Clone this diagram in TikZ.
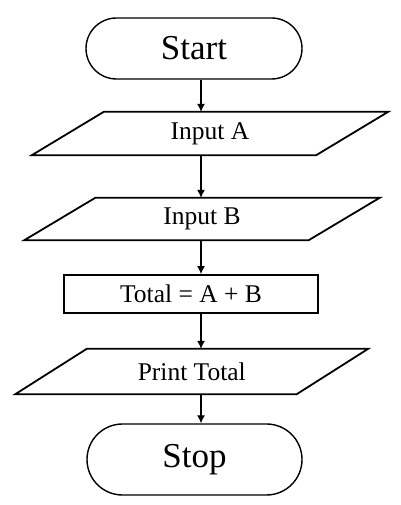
\documentclass[tikz,border=0pt]{standalone}
\usepackage{fontspec}
\setmainfont{Liberation Serif}
\usetikzlibrary{shapes.misc,arrows.meta}
\begin{document}
\begin{tikzpicture}[x=1pt,y=1pt,
  term/.style={rounded rectangle, draw, line width=1.4pt, inner sep=0pt,
    font=\fontsize{35}{40}\selectfont},
  iobox/.style={draw=none, inner sep=0pt, minimum width=284pt,
    font=\fontsize{25.5}{30}\selectfont},
  procbox/.style={draw, line width=1.8pt, inner sep=0pt,
    font=\fontsize{25.5}{30}\selectfont},
  ioline/.style={line width=1.8pt, line join=miter},
  flow/.style={line width=1.1pt, -{Latex[length=8pt,width=8pt]}}]
\useasboundingbox (0,0) rectangle (400,505);
\fill[white] (0,0) rectangle (400,505);
\node[term, minimum width=216pt, minimum height=61pt] (start) at (194,456.5) {Start};
\node[iobox, minimum height=43pt] (inA) at (210,371.5) {Input A};
\node[iobox, minimum height=42pt] (inB) at (202,286) {Input B};
\node[procbox, minimum width=254pt, minimum height=38pt] (calc) at (191,211) {Total = A + B};
\node[iobox, minimum width=281pt, minimum height=45pt] (prt) at (191.75,133.5) {Print Total};
\node[term, minimum width=215pt, minimum height=71pt] (stop) at (194.5,45.5) {Stop};
\draw[ioline] ([xshift=36pt]inA.north west) -- ([xshift=36pt]inA.north east) -- ([xshift=-36pt]inA.south east) -- ([xshift=-36pt]inA.south west) -- cycle;
\draw[ioline] ([xshift=35.5pt]inB.north west) -- ([xshift=35.5pt]inB.north east) -- ([xshift=-35.5pt]inB.south east) -- ([xshift=-35.5pt]inB.south west) -- cycle;
\draw[ioline] ([xshift=35.75pt]prt.north west) -- ([xshift=35.75pt]prt.north east) -- ([xshift=-35.75pt]prt.south east) -- ([xshift=-35.75pt]prt.south west) -- cycle;
\coordinate (ax) at (201,0);
\draw[flow] (start.south -| ax) -- (inA.north -| ax);
\draw[flow] (inA.south -| ax) -- (inB.north -| ax);
\draw[flow] (inB.south -| ax) -- (calc.north -| ax);
\draw[flow] (calc.south -| ax) -- (prt.north -| ax);
\draw[flow] (prt.south -| ax) -- (stop.north -| ax);
\end{tikzpicture}
\end{document}
